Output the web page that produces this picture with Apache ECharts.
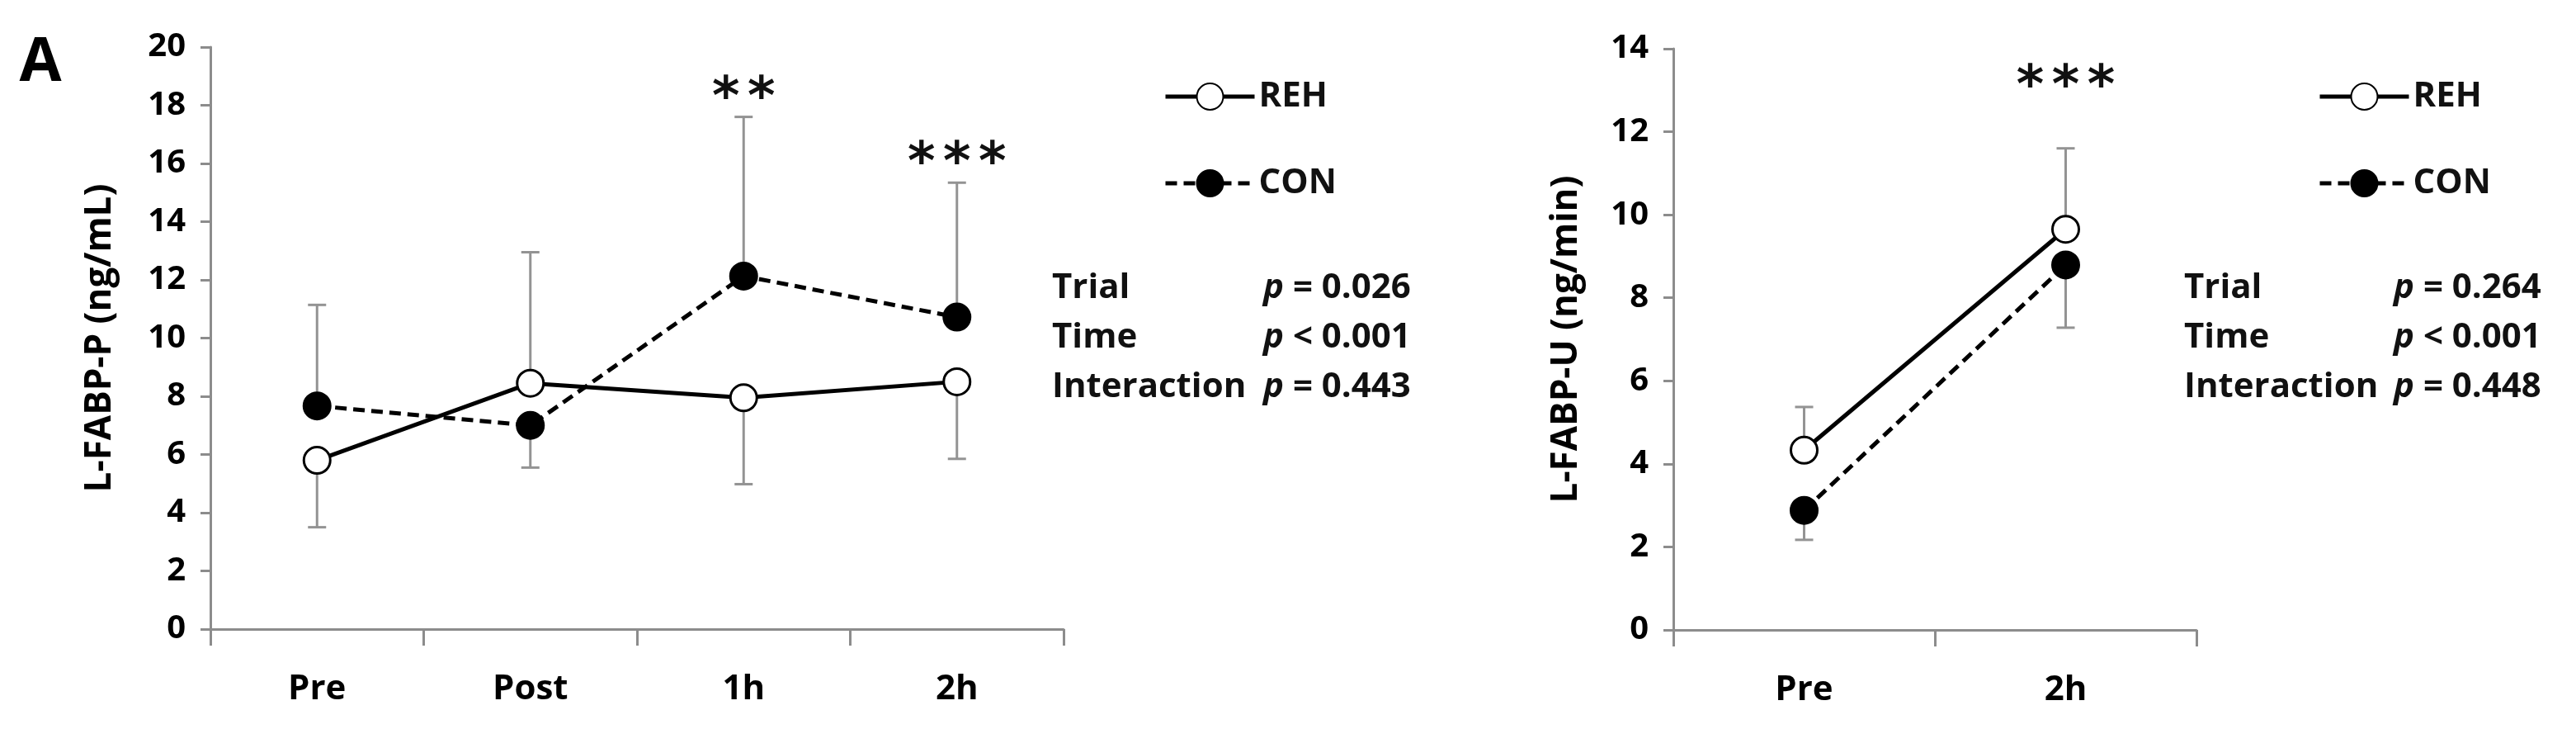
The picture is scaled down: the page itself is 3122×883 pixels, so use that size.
<!DOCTYPE html>
<html>
<head>
<meta charset="utf-8">
<script src="https://cdn.jsdelivr.net/npm/echarts@6/dist/echarts.min.js"></script>
<style>
html,body{margin:0;padding:0;background:#fff;}
#chart{width:3122px;height:883px;}
</style>
</head>
<body>
<div id="chart"></div>
<script>
// ---- Data ----
const categoriesP = ['Pre', 'Post', '1h', '2h'];
const rehP = [5.8, 8.45, 7.95, 8.5];
const conP = [7.67, 7.0, 12.13, 10.72];
const rehPsd = [2.3, 4.5, 2.97, 2.65];
const conPsd = [3.47, 1.45, 5.47, 4.62];
const starsP = ['', '', '**', '***'];
const starLevelP = [null, null, 18.7, 16.45];
const statsP = [['Trial', '= 0.026'], ['Time', '< 0.001'], ['Interaction', '= 0.443']];

const categoriesU = ['Pre', '2h'];
const rehU = [4.33, 9.65];
const conU = [2.88, 8.79];
const rehUsd = [1.04, 1.95];
const conUsd = [0.71, 1.51];
const starsU = ['', '***'];
const starLevelU = [null, 13.4];
const statsU = [['Trial', '= 0.264'], ['Time', '< 0.001'], ['Interaction', '= 0.448']];

const seriesNames = ['REH', 'CON'];

// ---- Styling ----
const FONT = '"Open Sans", "DejaVu Sans", sans-serif';
const AXIS_GREY = '#8c8c8c';
const ERR_GREY = '#939393';
const STAR_FS = 64;
const STAR_STEP = 43;

function errData(means, sds, others) {
  return means.map((m, i) => [i, m, m + (m >= others[i] ? sds[i] : -sds[i])]);
}
function errRender(params, api) {
  const p0 = api.coord([api.value(0), api.value(1)]);
  const p1 = api.coord([api.value(0), api.value(2)]);
  const cap = 11;
  return {
    type: 'group',
    children: [
      { type: 'line', shape: { x1: p0[0], y1: p0[1], x2: p1[0], y2: p1[1] }, style: { stroke: ERR_GREY, lineWidth: 3 } },
      { type: 'line', shape: { x1: p1[0] - cap, y1: p1[1], x2: p1[0] + cap, y2: p1[1] }, style: { stroke: ERR_GREY, lineWidth: 3 } }
    ]
  };
}
function starData(levels) {
  const out = [];
  levels.forEach((v, i) => { if (v !== null) out.push([i, v]); });
  return out;
}
function starRender(texts) {
  return function (params, api) {
    const p = api.coord([api.value(0), api.value(1)]);
    const chars = texts[api.value(0)].split('');
    const n = chars.length;
    return {
      type: 'group',
      children: chars.map((c, k) => ({
        type: 'text',
        x: p[0] + (k - (n - 1) / 2) * STAR_STEP,
        y: p[1] + STAR_FS * 0.29,
        style: { text: c, font: 'bold ' + STAR_FS + 'px "DejaVu Sans", sans-serif', fill: '#111', align: 'center', verticalAlign: 'middle' }
      }))
    };
  };
}

function xAxisCfg(cats, gi) {
  return {
    type: 'category', gridIndex: gi, data: cats, boundaryGap: true,
    axisLine: { lineStyle: { color: AXIS_GREY, width: 3 } },
    axisTick: { show: true, length: 20, lineStyle: { color: AXIS_GREY, width: 3 } },
    axisLabel: { color: '#000', fontFamily: FONT, fontWeight: 'bold', fontSize: 42, margin: 52 },
    splitLine: { show: false }
  };
}
function yAxisCfg(max, name, gi, gap) {
  return {
    type: 'value', gridIndex: gi, min: 0, max: max, interval: 2,
    name: name, nameLocation: 'middle', nameGap: gap, nameRotate: 90,
    nameTextStyle: { color: '#000', fontFamily: FONT, fontWeight: 'bold', fontSize: 44 },
    axisLine: { show: true, lineStyle: { color: AXIS_GREY, width: 3 } },
    axisTick: { show: true, length: 12, lineStyle: { color: AXIS_GREY, width: 3 } },
    axisLabel: { color: '#000', fontFamily: FONT, fontWeight: 'bold', fontSize: 40, margin: 30 },
    splitLine: { show: false }
  };
}
function lineSeries(name, data, gi, filled) {
  return {
    type: 'line', name: name, xAxisIndex: gi, yAxisIndex: gi, data: data, z: 3,
    symbol: 'circle', symbolSize: 32,
    itemStyle: { color: filled ? '#000' : '#fff', borderColor: '#000', borderWidth: 3 },
    lineStyle: { color: '#000', width: 5, type: filled ? [14, 8] : 'solid' },
    emphasis: { disabled: true }
  };
}

function statsGraphics(stats, x1, x2, y0) {
  const g = [];
  stats.forEach((s, i) => {
    const y = y0 + i * 60;
    g.push({ type: 'text', x: x1, y: y, style: { text: s[0], font: 'bold 42px ' + FONT, fill: '#111', verticalAlign: 'middle' } });
    g.push({
      type: 'text', x: x2, y: y,
      style: {
        text: '{i|p} ' + s[1], verticalAlign: 'middle', fill: '#111',
        font: 'bold 42px ' + FONT,
        rich: { i: { fontStyle: 'italic', fontWeight: 'bold', fontSize: 42, fontFamily: FONT, fill: '#111' } }
      }
    });
  });
  return g;
}

function legendCfg(left) {
  return {
    left: left, top: 91, orient: 'vertical', data: seriesNames,
    itemWidth: 108, itemHeight: 40, itemGap: 63,
    lineStyle: { width: 5 },
    textStyle: { color: '#111', fontFamily: FONT, fontWeight: 'bold', fontSize: 42 },
    selectedMode: false
  };
}

const chart = echarts.init(document.getElementById('chart'), null, { renderer: 'canvas' });
chart.setOption({
  backgroundColor: '#fff',
  animation: false,
  grid: [
    { left: 255, right: 3122 - 1289, top: 57, bottom: 883 - 762, containLabel: false },
    { left: 2028, right: 3122 - 2662, top: 59, bottom: 883 - 763, containLabel: false }
  ],
  legend: [legendCfg(1405), legendCfg(2804)],
  xAxis: [xAxisCfg(categoriesP, 0), xAxisCfg(categoriesU, 1)],
  yAxis: [yAxisCfg(20, 'L-FABP-P (ng/mL)', 0, 112), yAxisCfg(14, 'L-FABP-U (ng/min)', 1, 108)],
  series: [
    { type: 'custom', xAxisIndex: 0, yAxisIndex: 0, z: 1, renderItem: errRender, data: errData(rehP, rehPsd, conP), encode: { x: 0, y: [1, 2] }, silent: true },
    { type: 'custom', xAxisIndex: 0, yAxisIndex: 0, z: 1, renderItem: errRender, data: errData(conP, conPsd, rehP), encode: { x: 0, y: [1, 2] }, silent: true },
    lineSeries('REH', rehP, 0, false),
    lineSeries('CON', conP, 0, true),
    { type: 'custom', xAxisIndex: 0, yAxisIndex: 0, z: 4, renderItem: starRender(starsP), data: starData(starLevelP), encode: { x: 0, y: 1 }, silent: true },

    { type: 'custom', xAxisIndex: 1, yAxisIndex: 1, z: 1, renderItem: errRender, data: errData(rehU, rehUsd, conU), encode: { x: 0, y: [1, 2] }, silent: true },
    { type: 'custom', xAxisIndex: 1, yAxisIndex: 1, z: 1, renderItem: errRender, data: errData(conU, conUsd, rehU), encode: { x: 0, y: [1, 2] }, silent: true },
    lineSeries('REH', rehU, 1, false),
    lineSeries('CON', conU, 1, true),
    { type: 'custom', xAxisIndex: 1, yAxisIndex: 1, z: 4, renderItem: starRender(starsU), data: starData(starLevelU), encode: { x: 0, y: 1 }, silent: true }
  ],
  graphic: [
    { type: 'text', x: 49, y: 77, style: { text: 'A', font: 'bold 74px ' + FONT, fill: '#000', align: 'center', verticalAlign: 'middle' } }
  ].concat(statsGraphics(statsP, 1275, 1531, 349)).concat(statsGraphics(statsU, 2647, 2901, 349))
});
</script>
</body>
</html>
